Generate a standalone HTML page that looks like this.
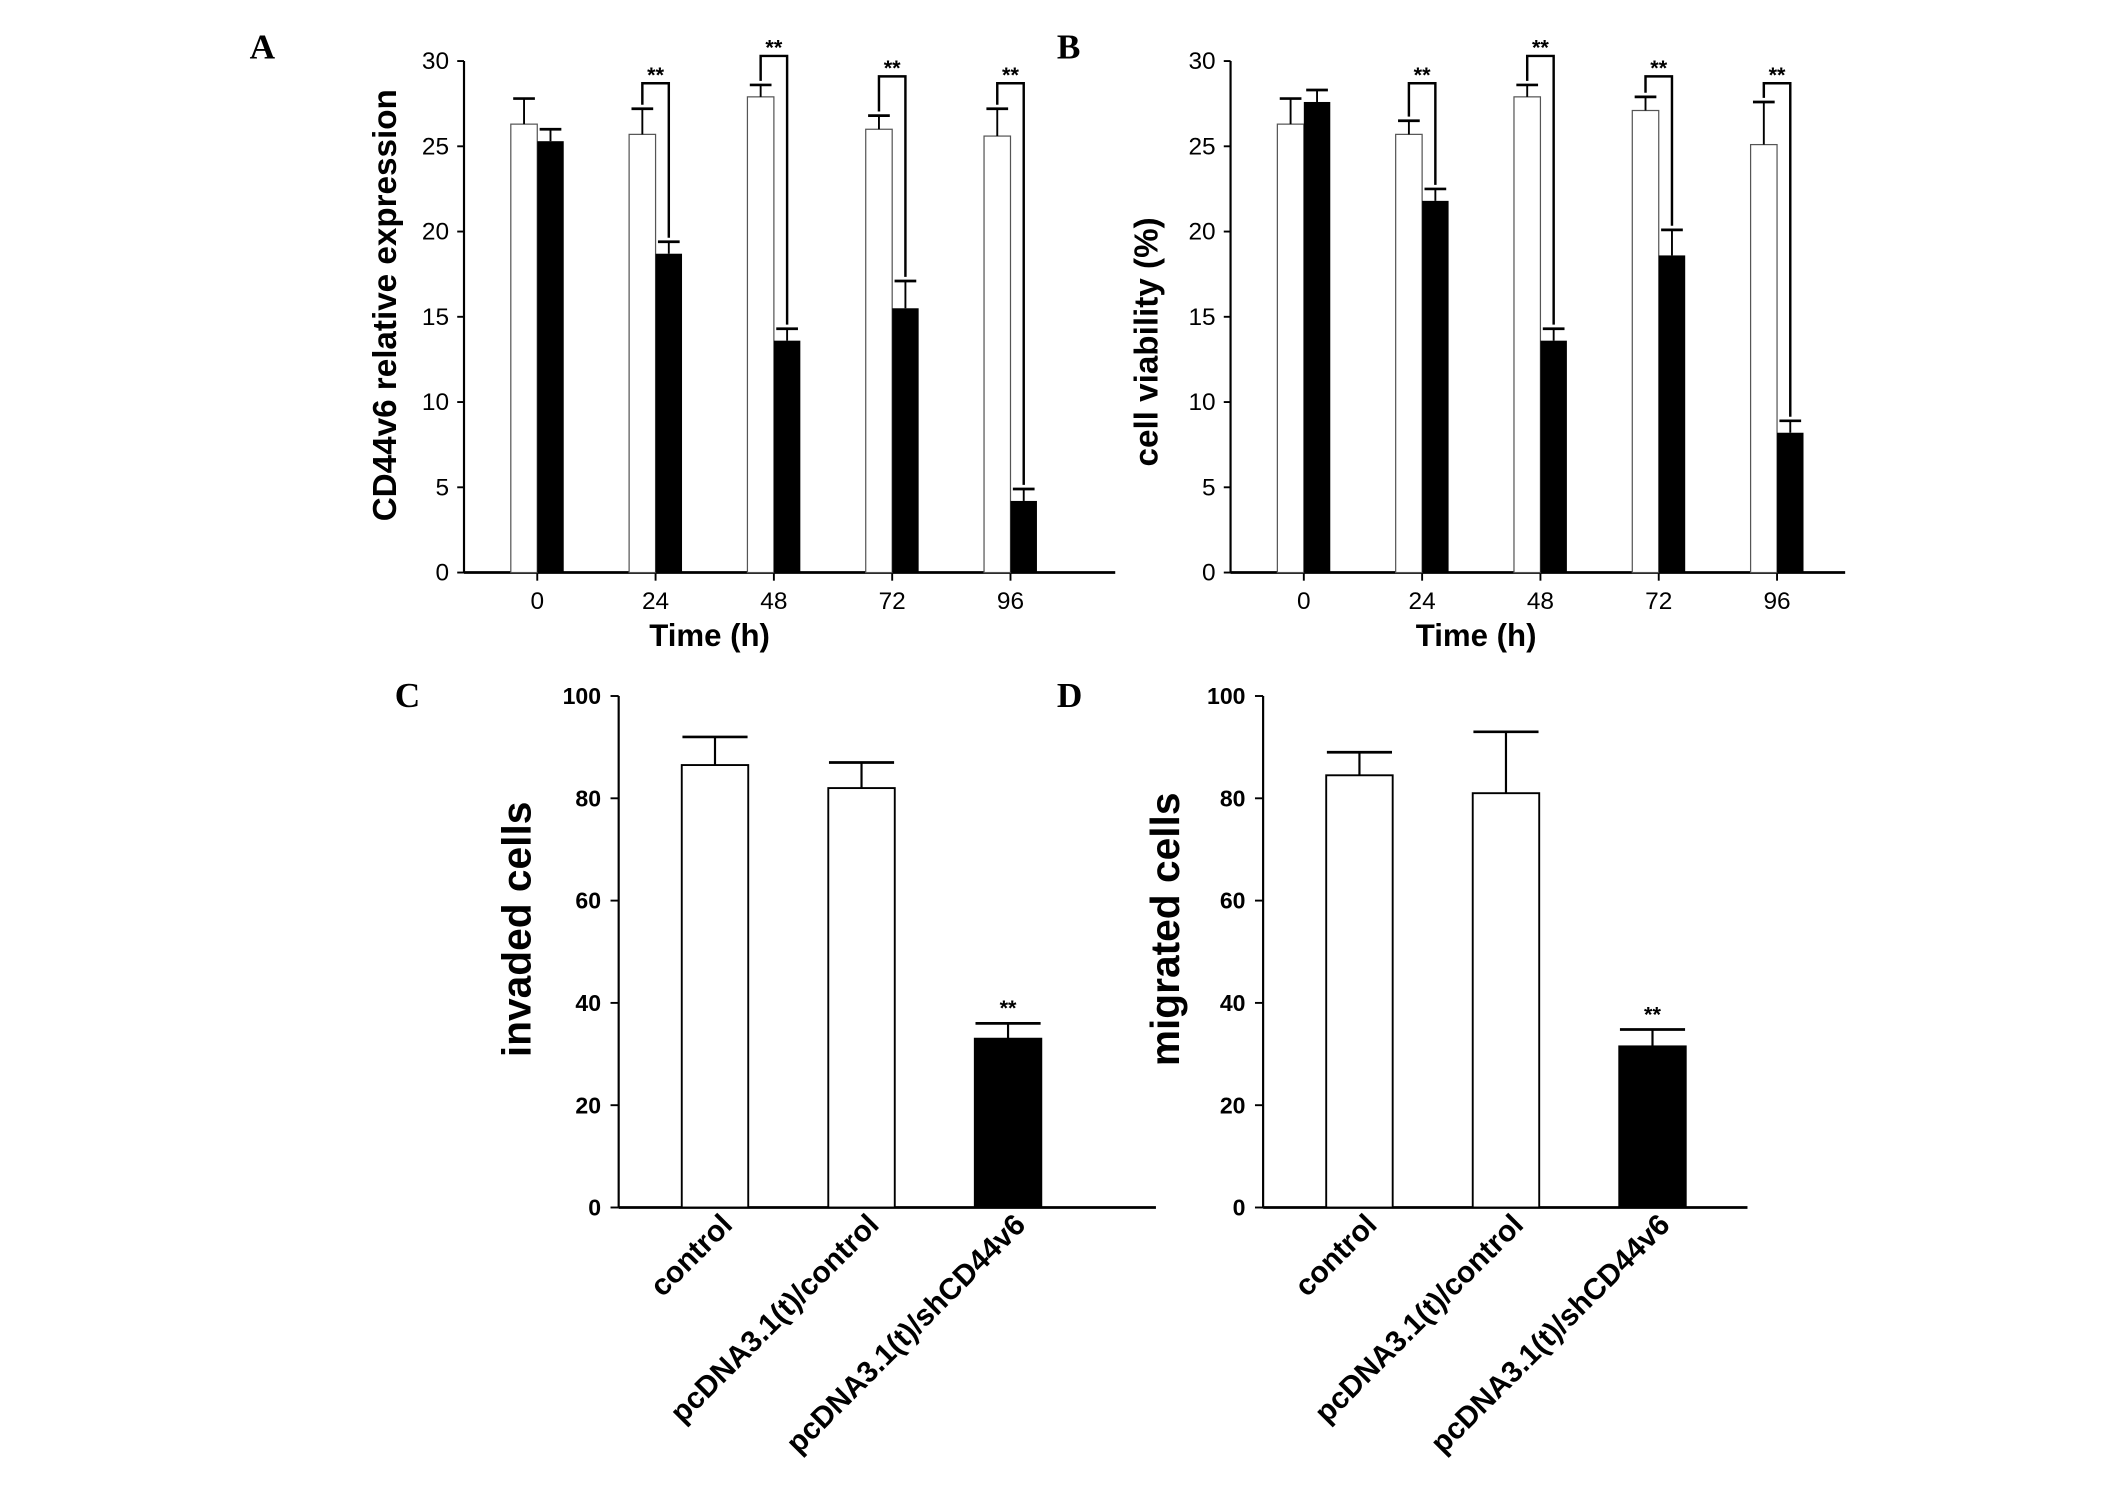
<!DOCTYPE html>
<html><head><meta charset="utf-8"><style>html,body{margin:0;padding:0;background:#fff}svg{display:block}</style></head>
<body>
<svg id="fig" width="2126" height="1492" viewBox="0 0 1567 1099.7" xmlns="http://www.w3.org/2000/svg" font-family="Liberation Sans, Arial, sans-serif"></svg>
<script>
// Panel A data
const timeCats = ["0","24","48","72","96"];
const aWhite = [26.3,25.7,27.9,26.0,25.6];
const aWhiteErr = [1.5,1.5,0.7,0.8,1.6];
const aBlack = [25.3,18.7,13.6,15.5,4.2];
const aBlackErr = [0.7,0.7,0.7,1.6,0.7];
const aBracket = [null,28.7,30.3,29.1,28.7];
// Panel B data
const bWhite = [26.3,25.7,27.9,27.1,25.1];
const bWhiteErr = [1.5,0.8,0.7,0.8,2.5];
const bBlack = [27.6,21.8,13.6,18.6,8.2];
const bBlackErr = [0.7,0.7,0.7,1.5,0.7];
const bBracket = [null,28.7,30.3,29.1,28.7];
const timeTicks = [0,5,10,15,20,25,30];
// Panel C/D data
const groupCats = ["control","pcDNA3.1(t)/control","pcDNA3.1(t)/shCD44v6"];
const cVals = [86.5,82,33];
const cErr = [5.5,5,3];
const dVals = [84.5,81,31.5];
const dErr = [4.5,12,3.3];
const cellTicks = [0,20,40,60,80,100];

const svg = document.getElementById('fig');
const NS = 'http://www.w3.org/2000/svg';
function mk(tag, attrs, parent){const e=document.createElementNS(NS,tag);for(const k in attrs)e.setAttribute(k,attrs[k]);(parent||svg).appendChild(e);return e;}
function txt(s, attrs, parent){const e=mk('text',attrs,parent);e.textContent=s;return e;}

function letter(s,x,y){const t=txt(s,{x:x,y:y,'font-family':'Liberation Serif, serif','font-weight':'bold','font-size':26});

}
letter('A',184,43);letter('B',779,43);letter('C',291,521);letter('D',779,521);

function timePanel(id, ax, xEnd, white, werr, black, berr, bracket, ytitle, ytx, yty, yfs){
  const g=mk('g',{});
  
  
  const top=45, bot=422, ymax=30;
  const y=v=>bot-(v/ymax)*(bot-top);
  const x0=ax+54, step=87.2;
  const xc=i=>x0+i*step;
  const bw=19.5;
  const ya=mk('line',{x1:ax,y1:top,x2:ax,y2:bot,stroke:'#000','stroke-width':1.6},g);
  
  const xa=mk('line',{x1:ax,y1:bot,x2:xEnd,y2:bot,stroke:'#000','stroke-width':2},g);
  
  timeTicks.forEach(v=>{
    mk('line',{x1:ax-5,y1:y(v),x2:ax,y2:y(v),stroke:'#000','stroke-width':1.4},g);
    const t=txt(String(v),{x:ax-11,y:y(v)+6,'text-anchor':'end','font-size':18},g);
    
  });
  timeCats.forEach((c,i)=>{
    mk('line',{x1:xc(i),y1:bot,x2:xc(i),y2:bot+6,stroke:'#000','stroke-width':1.4},g);
    const t=txt(c,{x:xc(i),y:bot+27,'text-anchor':'middle','font-size':18},g);
    
    const wx=xc(i)-bw, bx=xc(i);
    const w=mk('rect',{x:wx,y:y(white[i]),width:bw,height:bot-y(white[i]),fill:'#fff',stroke:'#555','stroke-width':0.9},g);
    
    const b=mk('rect',{x:bx,y:y(black[i]),width:bw,height:bot-y(black[i]),fill:'#000'},g);
    
    const wc=wx+bw/2, bc=bx+bw/2;
    mk('line',{x1:wc,y1:y(white[i]),x2:wc,y2:y(white[i]+werr[i]),stroke:'#000','stroke-width':1.4},g);
    mk('line',{x1:wc-8,y1:y(white[i]+werr[i]),x2:wc+8,y2:y(white[i]+werr[i]),stroke:'#000','stroke-width':2},g);
    mk('line',{x1:bc,y1:y(black[i]),x2:bc,y2:y(black[i]+berr[i]),stroke:'#000','stroke-width':1.4},g);
    mk('line',{x1:bc-8,y1:y(black[i]+berr[i]),x2:bc+8,y2:y(black[i]+berr[i]),stroke:'#000','stroke-width':2},g);
    if(bracket[i]!=null){
      const by=y(bracket[i]);
      const p=mk('polyline',{points:`${wc},${y(white[i]+werr[i])-3} ${wc},${by} ${bc},${by} ${bc},${y(black[i]+berr[i])-3}`,fill:'none',stroke:'#000','stroke-width':1.8},g);
      
      const s=txt('**',{x:(wc+bc)/2,y:by-1,'text-anchor':'middle','font-size':16,'font-weight':'bold'},g);
      
    }
  });
  const xt=txt('Time (h)',{x:ax+181,y:476,'text-anchor':'middle','font-size':23,'font-weight':'bold'},g);
  
  const yt=txt(ytitle,{x:0,y:0,'text-anchor':'middle','font-size':yfs,'font-weight':'bold',transform:`translate(${ytx},${yty}) rotate(-90)`},g);
  
}
timePanel('a',342,822,aWhite,aWhiteErr,aBlack,aBlackErr,aBracket,'CD44v6 relative expression',292,225,24.5);
timePanel('b',907,1360,bWhite,bWhiteErr,bBlack,bBlackErr,bBracket,'cell viability (%)',853,252,24.5);

function cellPanel(id, ax, xEnd, vals, err, ytitle, ytx){
  const g=mk('g',{});
  
  
  const top=513, bot=890, ymax=100;
  const y=v=>bot-(v/ymax)*(bot-top);
  const x0=ax+71, step=108, bw=49;
  const xc=i=>x0+i*step;
  const ya=mk('line',{x1:ax,y1:top,x2:ax,y2:bot,stroke:'#000','stroke-width':1.6},g);
  
  const xa=mk('line',{x1:ax,y1:bot,x2:xEnd,y2:bot,stroke:'#000','stroke-width':2},g);
  
  cellTicks.forEach(v=>{
    mk('line',{x1:ax-6,y1:y(v),x2:ax,y2:y(v),stroke:'#000','stroke-width':1.4},g);
    const t=txt(String(v),{x:ax-13,y:y(v)+6,'text-anchor':'end','font-size':17,'font-weight':'bold'},g);
    
  });
  groupCats.forEach((c,i)=>{
    const cx=xc(i);
    const r=mk('rect',{x:cx-bw/2,y:y(vals[i]),width:bw,height:bot-y(vals[i]),fill:i==2?'#000':'#fff',stroke:'#000','stroke-width':1.4},g);
    
    mk('line',{x1:cx,y1:y(vals[i]),x2:cx,y2:y(vals[i]+err[i]),stroke:'#000','stroke-width':1.6},g);
    mk('line',{x1:cx-24,y1:y(vals[i]+err[i]),x2:cx+24,y2:y(vals[i]+err[i]),stroke:'#000','stroke-width':2},g);
    if(i==2){const s=txt('**',{x:cx,y:y(vals[i]+err[i])-6,'text-anchor':'middle','font-size':16,'font-weight':'bold'},g);
      }
    const t=txt(c,{x:0,y:0,'text-anchor':'end','font-size':22,'font-weight':'bold',transform:`translate(${cx+14},${bot+14}) rotate(-45)`},g);
    
  });
  const yt=txt(ytitle,{x:0,y:0,'text-anchor':'middle','font-size':30,'font-weight':'bold',transform:`translate(${ytx},685) rotate(-90)`},g);
  
}
cellPanel('c',456,852,cVals,cErr,'invaded cells',391);
cellPanel('d',931,1288,dVals,dErr,'migrated cells',869);
</script>
</body></html>
